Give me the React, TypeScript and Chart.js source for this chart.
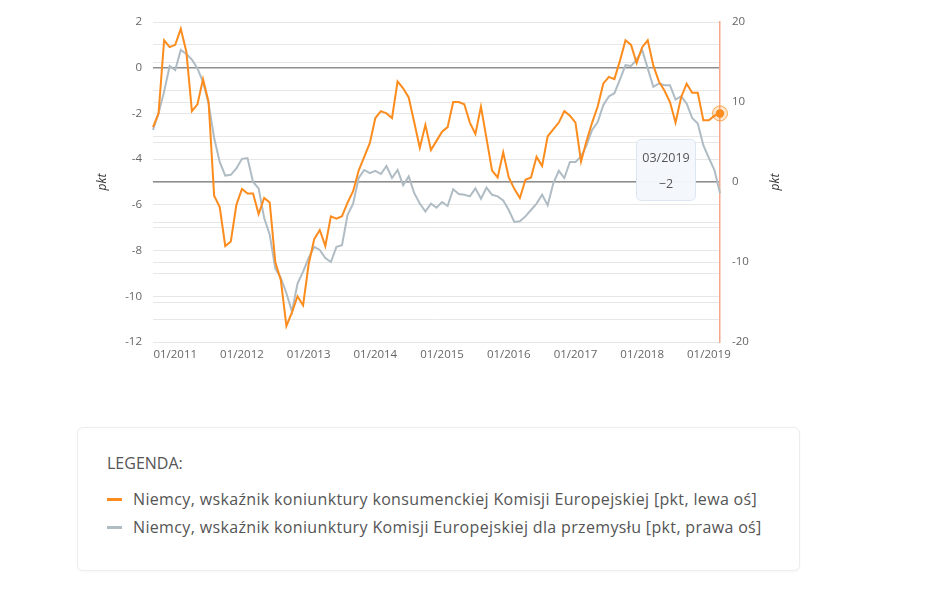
import React, { useEffect, useRef } from "react";
import { Chart, registerables } from "chart.js";

Chart.register(...registerables);

// Monthly categories 09/2010 .. 03/2019
const FIRST_YEAR = 2010;
const FIRST_MONTH = 9;
const MONTH_COUNT = 103;
const categories: string[] = [];
for (let i = 0; i < MONTH_COUNT; i++) {
  const m = ((FIRST_MONTH - 1 + i) % 12) + 1;
  const y = FIRST_YEAR + Math.floor((FIRST_MONTH - 1 + i) / 12);
  categories.push((m < 10 ? "0" + m : "" + m) + "/" + y);
}

// Consumer confidence (left axis)
const consumerValues: number[] = [
  -2.6, -2.0, 1.2, 0.9, 1.0, 1.7, 0.7, -1.9, -1.6, -0.5,
  -1.5, -5.6, -6.1, -7.8, -7.6, -6.0, -5.3, -5.5, -5.5, -6.4,
  -5.7, -5.9, -8.5, -9.3, -11.3, -10.7, -10.0, -10.4, -8.6, -7.5,
  -7.1, -7.8, -6.5, -6.6, -6.5, -5.9, -5.4, -4.5, -3.9, -3.3,
  -2.2, -1.9, -2.0, -2.2, -0.6, -0.9, -1.3, -2.4, -3.5, -2.5,
  -3.6, -3.2, -2.8, -2.6, -1.5, -1.5, -1.6, -2.4, -2.9, -1.7,
  -3.1, -4.5, -4.8, -3.7, -4.8, -5.3, -5.7, -4.9, -4.8, -3.9,
  -4.3, -3.0, -2.7, -2.4, -1.9, -2.1, -2.4, -4.1, -3.2, -2.4,
  -1.7, -0.7, -0.4, -0.5, 0.3, 1.2, 1.0, 0.2, 0.9, 1.2,
  0.1, -0.6, -1.0, -1.5, -2.4, -1.3, -0.7, -1.1, -1.1, -2.3,
  -2.3, -2.1, -2.0,
];

// Industrial confidence (right axis)
const industryValues: number[] = [
  6.5, 8.6, 11.3, 14.5, 14.0, 16.5, 16.0, 15.3, 14.2, 12.5,
  9.8, 5.5, 2.5, 0.8, 0.9, 1.7, 2.9, 3.0, 0.0, -0.8,
  -4.5, -6.6, -10.8, -12.0, -13.9, -16.2, -12.7, -11.2, -9.5, -8.1,
  -8.5, -9.5, -10.0, -8.1, -7.9, -4.1, -2.7, 0.5, 1.5, 1.1,
  1.4, 1.0, 2.0, 0.5, 1.5, -0.4, 0.7, -1.4, -2.7, -3.7,
  -2.7, -3.2, -2.5, -3.0, -0.9, -1.5, -1.6, -1.8, -0.8, -2.1,
  -0.7, -1.6, -1.8, -2.3, -3.5, -5.0, -4.9, -4.3, -3.5, -2.7,
  -1.6, -2.9, -0.2, 1.4, 0.5, 2.5, 2.5, 3.2, 4.6, 6.5,
  7.5, 9.6, 10.7, 11.1, 12.8, 14.6, 14.5, 15.3, 16.5, 14.2,
  11.9, 12.3, 12.1, 12.1, 10.3, 10.7, 9.8, 8.0, 7.3, 4.6,
  3.0, 1.5, -1.4,
];

const LEFT_MIN = -12;
const LEFT_MAX = 2;
const LEFT_STEP = 1;
const LEFT_LABEL_EVERY = 2;
const RIGHT_MIN = -20;
const RIGHT_MAX = 20;
const RIGHT_STEP = 5;
const RIGHT_LABEL_EVERY = 10;

const seriesNames = [
  "Niemcy, wskaźnik koniunktury konsumenckiej Komisji Europejskiej [pkt, lewa oś]",
  "Niemcy, wskaźnik koniunktury Komisji Europejskiej dla przemysłu [pkt, prawa oś]",
];
const axisTitle = "pkt";

const ORANGE = "#fb8c1d";
const GRAY = "#b0bcc4";
const FONT = "'Open Sans', 'DejaVu Sans', sans-serif";

const extrasPlugin = {
  id: "extras",
  afterDatasetsDraw(chart: any) {
    const ctx = chart.ctx;
    const meta = chart.getDatasetMeta(0);
    const el = meta.data[meta.data.length - 1];
    if (!el) return;
    ctx.save();
    ctx.beginPath();
    ctx.arc(el.x, el.y, 8, 0, Math.PI * 2);
    ctx.fillStyle = "rgba(251,140,29,0.22)";
    ctx.fill();
    ctx.beginPath();
    ctx.arc(el.x, el.y, 7.5, 0, Math.PI * 2);
    ctx.strokeStyle = "rgba(251,140,29,0.65)";
    ctx.lineWidth = 1;
    ctx.stroke();
    ctx.beginPath();
    ctx.arc(el.x, el.y, 4.2, 0, Math.PI * 2);
    ctx.fillStyle = ORANGE;
    ctx.fill();
    ctx.restore();
  },
  afterDraw(chart: any) {
    const ctx = chart.ctx;
    const area = chart.chartArea;
    const midY = (area.top + area.bottom) / 2;
    ctx.save();
    ctx.fillStyle = "#333";
    ctx.font = "italic 12px " + FONT;
    ctx.textAlign = "center";
    ctx.textBaseline = "middle";
    [area.left - 50, area.right + 56].forEach((x) => {
      ctx.save();
      ctx.translate(x, midY);
      ctx.rotate(-Math.PI / 2);
      ctx.fillText(axisTitle, 0, 0);
      ctx.restore();
    });

    // tooltip for last point
    const meta = chart.getDatasetMeta(0);
    const idx = meta.data.length - 1;
    const el = meta.data[idx];
    if (el) {
      const w = 59;
      const h = 61;
      const cx = el.x - 54;
      const top = el.y + 26;
      const left = cx - w / 2;
      const r = 5;
      ctx.beginPath();
      ctx.moveTo(left + r, top);
      ctx.lineTo(left + w - r, top);
      ctx.quadraticCurveTo(left + w, top, left + w, top + r);
      ctx.lineTo(left + w, top + h - r);
      ctx.quadraticCurveTo(left + w, top + h, left + w - r, top + h);
      ctx.lineTo(left + r, top + h);
      ctx.quadraticCurveTo(left, top + h, left, top + h - r);
      ctx.lineTo(left, top + r);
      ctx.quadraticCurveTo(left, top, left + r, top);
      ctx.closePath();
      ctx.fillStyle = "rgba(244,248,253,0.97)";
      ctx.fill();
      ctx.strokeStyle = "#dbe6f2";
      ctx.lineWidth = 1;
      ctx.stroke();
      ctx.fillStyle = "#555";
      ctx.font = "12.5px " + FONT;
      ctx.textAlign = "center";
      ctx.textBaseline = "middle";
      ctx.fillText(chart.data.labels[idx], cx, top + 19);
      const v = chart.data.datasets[0].data[idx];
      ctx.fillText(String(v).replace("-", "−"), cx, top + 45);
    }
    ctx.restore();
  },
};

function ChartView() {
  const ref = useRef<HTMLCanvasElement | null>(null);
  useEffect(() => {
    if (!ref.current) return;
    const gridColor = (c: any) =>
      c.tick && c.tick.value === 0 ? "#8e8e8e" : "#e7e7e7";
    const gridWidth = (c: any) => (c.tick && c.tick.value === 0 ? 1.5 : 1);
    const chart = new Chart(ref.current, {
      type: "line",
      data: {
        labels: categories,
        datasets: [
          {
            label: seriesNames[0],
            data: consumerValues,
            borderColor: ORANGE,
            backgroundColor: ORANGE,
            borderWidth: 2,
            pointRadius: 0,
            tension: 0,
            yAxisID: "yLeft",
            clip: false as any,
          },
          {
            label: seriesNames[1],
            data: industryValues,
            borderColor: GRAY,
            backgroundColor: GRAY,
            borderWidth: 2,
            pointRadius: 0,
            tension: 0,
            yAxisID: "yRight",
            clip: false as any,
          },
        ],
      },
      options: {
        responsive: true,
        maintainAspectRatio: false,
        animation: false,
        events: [],
        layout: { padding: { top: 22, left: 0, right: 0, bottom: 0 } },
        plugins: {
          legend: { display: false },
          tooltip: { enabled: false },
          title: { display: false },
        },
        scales: {
          x: {
            type: "category",
            offset: false,
            grid: { display: false, drawTicks: false },
            border: { display: false },
            afterFit: (s: any) => {
              s.height = 38;
            },
            ticks: {
              autoSkip: false,
              maxRotation: 0,
              padding: 6,
              color: "#666",
              font: { family: FONT, size: 11.5 },
              callback: function (this: any, _v: any, i: number) {
                const lab = categories[i];
                return lab.startsWith("01/") ? lab : null;
              },
            },
          },
          yLeft: {
            type: "linear",
            position: "left",
            min: LEFT_MIN,
            max: LEFT_MAX,
            afterFit: (s: any) => {
              s.width = 153;
            },
            grid: { color: gridColor, lineWidth: gridWidth, drawTicks: false },
            border: { display: false },
            ticks: {
              stepSize: LEFT_STEP,
              padding: 11,
              color: "#666",
              font: { family: FONT, size: 11.5 },
              callback: (v: any) =>
                Math.round(v) % LEFT_LABEL_EVERY === 0 ? String(v) : "",
            },
          },
          yRight: {
            type: "linear",
            position: "right",
            min: RIGHT_MIN,
            max: RIGHT_MAX,
            afterFit: (s: any) => {
              s.width = 225;
            },
            grid: { color: gridColor, lineWidth: gridWidth, drawTicks: false },
            border: { display: true, color: "#f5a88e", width: 1.5 },
            ticks: {
              stepSize: RIGHT_STEP,
              padding: 12,
              color: "#666",
              font: { family: FONT, size: 11.5 },
              callback: (v: any) =>
                Math.round(v) % RIGHT_LABEL_EVERY === 0 ? String(v) : "",
            },
          },
        },
      },
      plugins: [extrasPlugin],
    });
    return () => chart.destroy();
  }, []);
  return <canvas ref={ref} />;
}

export default function App() {
  return (
    <div
      style={{
        position: "absolute",
        left: 0,
        top: 0,
        width: 945,
        height: 594,
        overflow: "hidden",
        background: "#fff",
        fontFamily: FONT,
      }}
    >
      <div style={{ position: "absolute", left: 0, top: 0, width: 945, height: 380 }}>
        <ChartView />
      </div>
      <div
        style={{
          position: "absolute",
          left: 77,
          top: 427,
          width: 721,
          height: 142,
          border: "1px solid #ededed",
          borderRadius: 6,
          boxShadow: "0 1px 3px rgba(0,0,0,0.04)",
          background: "#fff",
          color: "#555",
        }}
      >
        <div style={{ position: "absolute", left: 29, top: 24, fontSize: 16, letterSpacing: 0 }}>
          LEGENDA:
        </div>
        {seriesNames.map((name, i) => (
          <div
            key={name}
            style={{
              position: "absolute",
              left: 29,
              top: 60 + i * 28,
              display: "flex",
              alignItems: "center",
              fontSize: 16,
              letterSpacing: 0.35,
              whiteSpace: "nowrap",
            }}
          >
            <span
              style={{
                display: "inline-block",
                width: 15,
                height: 3,
                background: i === 0 ? ORANGE : GRAY,
                marginRight: 11,
              }}
            />
            <span>{name}</span>
          </div>
        ))}
      </div>
    </div>
  );
}
